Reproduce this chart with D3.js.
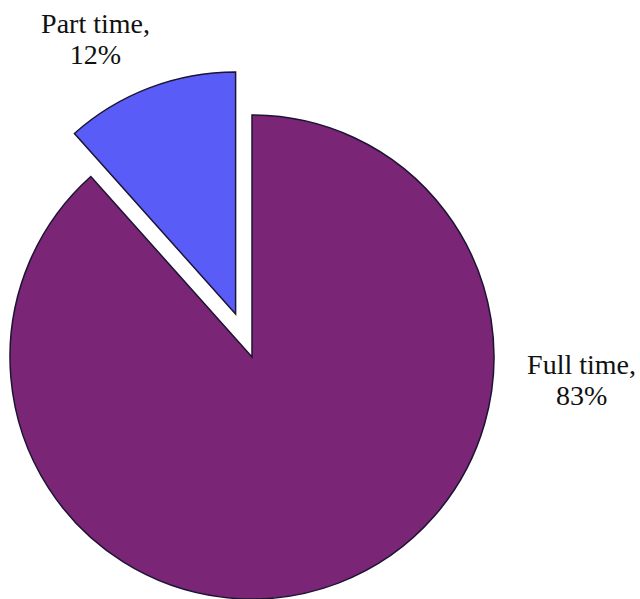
<!DOCTYPE html>
<html>
<head>
<meta charset="utf-8">
<script src="https://cdn.jsdelivr.net/npm/d3@7"></script>
<style>
    html, body { margin: 0; padding: 0; background: #fff; }
    svg { display: block; }
    .label { font-family: "Liberation Serif", "Times New Roman", serif; font-size: 28px; fill: #111; }
</style>
</head>
<body>
<svg id="chart"></svg>
<script>
/*################
Data
################*/
const categories = ['Full time', 'Part time'];
const percentLabels = [83, 12];        // as printed on the labels
const sliceShares = [88.4, 11.6];      // slice sizes as drawn
const colors = ['#7b2577', '#5a5cf7'];
const exploded = [false, true];

/*################
Layout
################*/
const width = 640, height = 599;
const cx = 252, cy = 357, radius = 242, explode = 46;

// label placement: angle (deg, clockwise from top) and distance from the slice's centre
const labelAngle = [93, -26.5];
const labelDist = [330, 314];

const svg = d3.select('#chart')
    .attr('width', width)
    .attr('height', height);

const pieData = d3.pie()
    .sort(null)
    .value((d, i) => sliceShares[i])(categories);

const arc = d3.arc().innerRadius(0).outerRadius(radius);

let offset = (d, i) => {
    if (!exploded[i]) return [0, 0];
    const mid = (d.startAngle + d.endAngle) / 2;
    return [Math.sin(mid) * explode, -Math.cos(mid) * explode];
};

const slices = svg.selectAll('g.slice')
    .data(pieData)
    .enter()
    .append('g')
    .attr('class', 'slice')
    .attr('transform', (d, i) => {
        const [dx, dy] = offset(d, i);
        return `translate(${cx + dx}, ${cy + dy})`;
    });

slices.append('path')
    .attr('d', arc)
    .attr('fill', (d, i) => colors[i])
    .attr('stroke', '#1c1433')
    .attr('stroke-width', 1.5)
    .attr('stroke-linejoin', 'miter');

slices.append('text')
    .attr('class', 'label')
    .attr('text-anchor', 'middle')
    .attr('transform', (d, i) => {
        const a = labelAngle[i] * Math.PI / 180;
        return `translate(${Math.sin(a) * labelDist[i]}, ${-Math.cos(a) * labelDist[i]})`;
    })
    .call(t => t.append('tspan')
        .attr('x', 0)
        .attr('y', 0)
        .text(d => d.data + ','))
    .call(t => t.append('tspan')
        .attr('x', 0)
        .attr('y', 31)
        .text((d, i) => percentLabels[i] + '%'));
</script>
</body>
</html>
